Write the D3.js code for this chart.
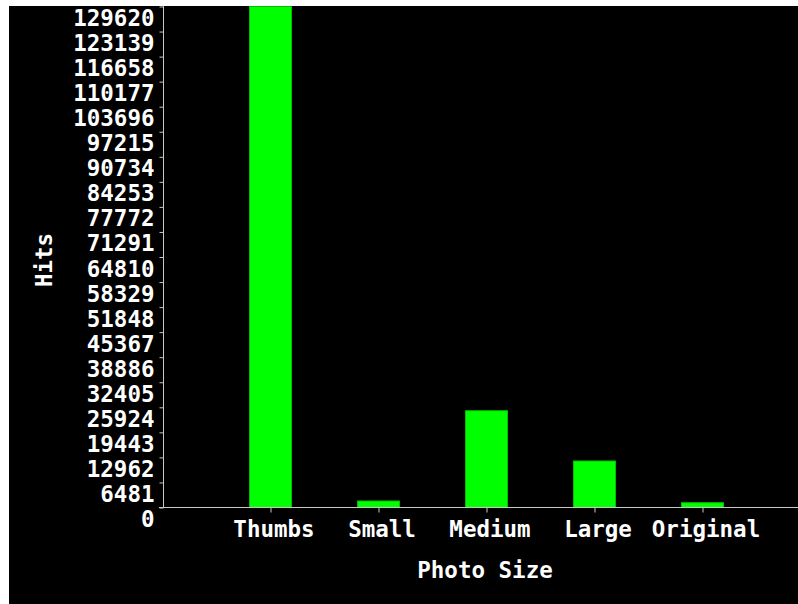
<!DOCTYPE html>
<html><head><meta charset="utf-8">
<script src="https://cdn.jsdelivr.net/npm/d3@7"></script>
<style>html,body{margin:0;padding:0;background:#fff;overflow:hidden}svg{display:block}</style>
</head><body>
<svg id="c" width="798" height="604"></svg>
<script>
const categories = ["Thumbs", "Small", "Medium", "Large", "Original"];
const hits = [129620, 1680, 25040, 12030, 1240];
const yTickValues = [0, 6481, 12962, 19443, 25924, 32405, 38886, 45367, 51848, 58329, 64810,
  71291, 77772, 84253, 90734, 97215, 103696, 110177, 116658, 123139, 129620];
const xTitle = "Photo Size";
const yTitle = "Hits";

const svg = d3.select("#c");
const FONT = "'DejaVu Sans Mono', monospace";
const axisColor = "#c8c8c8";

svg.append("rect").attr("x", 9).attr("y", 6).attr("width", 789).attr("height", 598).attr("fill", "#000");

const y = d3.scaleLinear().domain([0, 129620]).range([507.5, 6.5]);
const x = d3.scalePoint().domain(categories).range([270.5, 702.5]);
const barW = 42;

// bars
svg.append("g").selectAll("rect").data(categories).join("rect")
  .attr("x", d => x(d) - barW / 2)
  .attr("width", barW)
  .attr("y", (d, i) => y(hits[i]))
  .attr("height", (d, i) => y(0) - y(hits[i]))
  .attr("fill", "#00ff00")
  .attr("stroke", "#00c000")
  .attr("stroke-width", 1);

// y axis
const yAxis = d3.axisLeft(y).tickValues(yTickValues).tickFormat(d3.format("d")).tickSize(4).tickSizeOuter(0);
const gy = svg.append("g").attr("transform", "translate(163.5,0)").call(yAxis);
gy.select(".domain").attr("stroke", axisColor).attr("d", "M0,6V507.5");
gy.selectAll(".tick line").attr("stroke", axisColor);
gy.selectAll(".tick text")
  .attr("fill", "#fff").attr("x", -9).attr("dy", null).attr("y", 19)
  .attr("font-family", FONT).attr("font-weight", "bold").attr("font-size", "22.5px")
  .attr("text-anchor", "end");

// x axis
const xAxis = d3.axisBottom(x).tickSize(5).tickSizeOuter(0);
const gx = svg.append("g").attr("transform", "translate(0,507.5)").call(xAxis);
gx.select(".domain").attr("stroke", axisColor).attr("d", "M159,0H798");
gx.selectAll(".tick line").attr("stroke", axisColor);
gx.selectAll(".tick text")
  .attr("fill", "#fff").attr("x", 3).attr("dy", null).attr("y", 29)
  .attr("font-family", FONT).attr("font-weight", "bold").attr("font-size", "22.5px")
  .attr("text-anchor", "middle");

// titles
svg.append("text").attr("x", 485).attr("y", 578)
  .attr("text-anchor", "middle").attr("fill", "#fff")
  .attr("font-family", FONT).attr("font-weight", "bold").attr("font-size", "22.5px")
  .text(xTitle);
svg.append("text").attr("transform", "translate(52,260) rotate(-90)")
  .attr("text-anchor", "middle").attr("fill", "#fff")
  .attr("font-family", FONT).attr("font-weight", "bold").attr("font-size", "22.5px")
  .text(yTitle);
</script>
</body></html>
